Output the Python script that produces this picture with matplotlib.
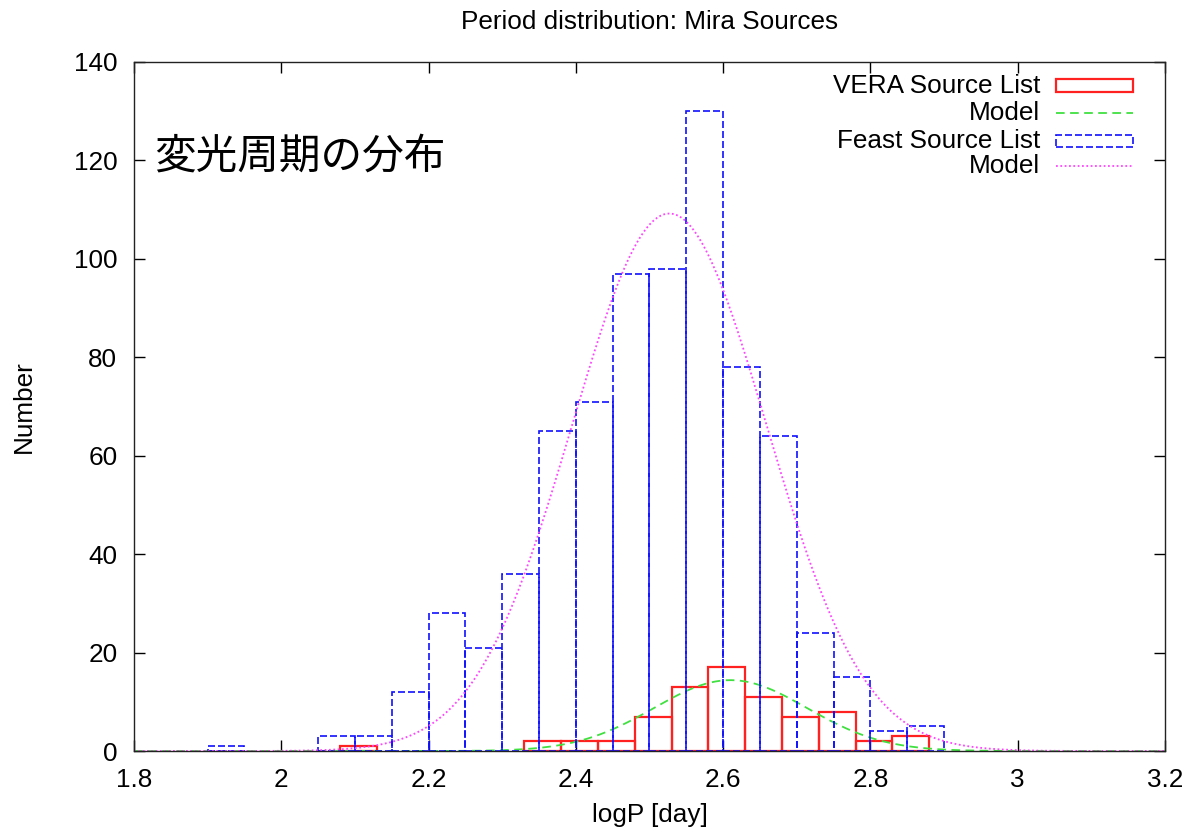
import numpy as np
import matplotlib.pyplot as plt
from matplotlib.patches import Rectangle
from matplotlib.lines import Line2D

# ---------------------------------------------------------------------------
# Histogram data (bin width 0.05 in logP)
# ---------------------------------------------------------------------------
BIN_W = 0.05

# VERA sources: left bin edges and counts
vera_left = [2.08, 2.33, 2.38, 2.43, 2.48, 2.53, 2.58, 2.63, 2.68, 2.73, 2.78, 2.83]
vera_count = [1, 2, 2, 2, 7, 13, 17, 11, 7, 8, 2, 3]

# Feast sources: left bin edges and counts
feast_left = [1.90, 2.05, 2.10, 2.15, 2.20, 2.25, 2.30, 2.35, 2.40, 2.45,
              2.50, 2.55, 2.60, 2.65, 2.70, 2.75, 2.80, 2.85]
feast_count = [1, 3, 3, 12, 28, 21, 36, 65, 71, 97, 98, 130, 78, 64, 24, 15, 4, 5]

# Gaussian model fits: (amplitude, mean, sigma)
vera_model = (14.4, 2.61, 0.104)
feast_model = (109.2, 2.527, 0.132)

RED = "#ff2020"
GREEN = "#40e040"
BLUE = "#1010ff"
MAGENTA = "#ff44ff"

FONT = "Liberation Sans"
FS = 18.8

plt.rcParams["font.family"] = [FONT, "DejaVu Sans"]

fig = plt.figure(figsize=(11.92, 8.34), dpi=100)
ax = fig.add_axes([0.1124, 0.0995, 0.8649, 0.8262])

blue_ls = (0, (4.2, 1.8))
green_ls = (0, (4.8, 3.0))
mag_ls = (0, (1.0, 1.4))


def gauss(x, a, mu, sig):
    return a * np.exp(-0.5 * ((x - mu) / sig) ** 2)


xs = np.linspace(1.8, 3.2, 600)

# VERA histogram + model
ax.bar(vera_left, vera_count, width=BIN_W, align="edge", fill=False,
       edgecolor=RED, linewidth=1.6, zorder=2)
ax.plot(xs, gauss(xs, *vera_model), color=GREEN, linewidth=1.3,
        linestyle=green_ls, zorder=3)

# Feast histogram + model
ax.bar(feast_left, feast_count, width=BIN_W, align="edge", fill=False,
       edgecolor=BLUE, linewidth=1.2, linestyle=blue_ls, zorder=4)
ax.plot(xs, gauss(xs, *feast_model), color=MAGENTA, linewidth=1.3,
        linestyle=mag_ls, zorder=5)

ax.set_xlim(1.8, 3.2)
ax.set_ylim(0, 140)
ax.set_xticks(np.arange(1.8, 3.21, 0.2))
ax.set_xticklabels(["1.8", "2", "2.2", "2.4", "2.6", "2.8", "3", "3.2"])
ax.set_yticks(np.arange(0, 141, 20))

ax.tick_params(direction="in", length=8, width=1, top=True, right=True,
               labelsize=FS, pad=12)
for sp in ax.spines.values():
    sp.set_linewidth(1.0)
    sp.set_color("#222222")
    sp.set_zorder(6)

ax.set_title("Period distribution: Mira Sources", fontsize=FS, pad=24)
ax.set_xlabel("logP [day]", fontsize=FS)
ax.set_ylabel("Number", fontsize=FS)
ax.xaxis.set_label_coords(0.5, -0.075)
ax.yaxis.set_label_coords(-0.095, 0.5)

# Key in the upper right corner: label, then sample
key_rows = [0.9656, 0.9255, 0.8853, 0.849]
key_text_x = 0.8788
key_x0, key_x1 = 0.8943, 0.969
box_h = 0.0184
labels = ["VERA Source List", "Model", "Feast Source List", "Model"]
for y, lab in zip(key_rows, labels):
    ax.text(key_text_x, y, lab, transform=ax.transAxes, ha="right",
            va="center", fontsize=FS)

ax.add_patch(Rectangle((key_x0, key_rows[0] - box_h / 2), key_x1 - key_x0, box_h,
                       transform=ax.transAxes, fill=False, edgecolor=RED,
                       linewidth=1.6, clip_on=False))
ax.add_line(Line2D([key_x0, key_x1], [key_rows[1]] * 2, transform=ax.transAxes,
                   color=GREEN, linewidth=1.3, linestyle=green_ls))
ax.add_patch(Rectangle((key_x0, key_rows[2] - box_h / 2), key_x1 - key_x0, box_h,
                       transform=ax.transAxes, fill=False, edgecolor=BLUE,
                       linewidth=1.2, linestyle=blue_ls, clip_on=False))
ax.add_line(Line2D([key_x0, key_x1], [key_rows[3]] * 2, transform=ax.transAxes,
                   color=MAGENTA, linewidth=1.3, linestyle=mag_ls))

# Japanese caption inside the plot
ax.text(0.020, 0.862, "変光周期の分布", transform=ax.transAxes,
        ha="left", va="center", fontsize=30,
        family=["Noto Sans CJK JP", "DejaVu Sans"])

fig.savefig("out.png", dpi=100)
